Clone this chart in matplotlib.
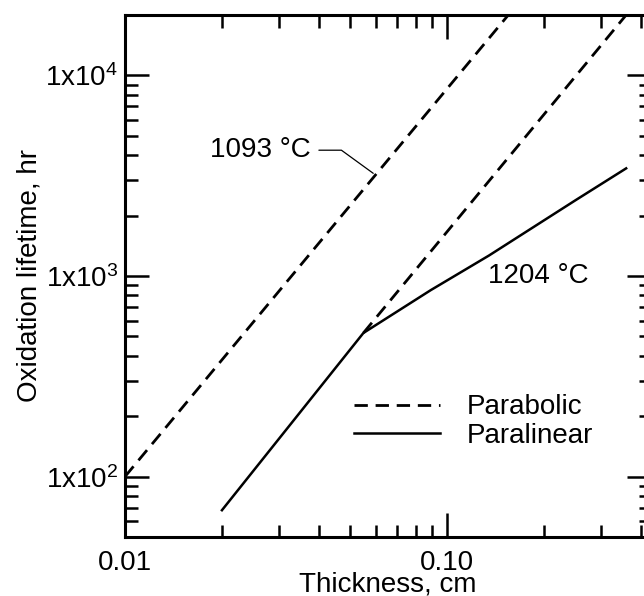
import matplotlib
matplotlib.use("Agg")
import matplotlib.pyplot as plt
from matplotlib.ticker import LogLocator, FixedLocator, NullFormatter, FixedFormatter

plt.rcParams["font.family"] = ["Liberation Sans", "DejaVu Sans"]
plt.rcParams["mathtext.default"] = "regular"

# 1093 C, parabolic (dashed)
x_1093_para = [0.01, 0.155]
y_1093_para = [100, 20000]

# 1204 C, parabolic (dashed), starts where paralinear breaks away
x_1204_para = [0.055, 0.36]
y_1204_para = [520, 20000]

# 1204 C, paralinear (solid)
x_1204_plin = [0.02, 0.055, 0.089, 0.135, 0.25, 0.36]
y_1204_plin = [68, 520, 850, 1265, 2380, 3440]

xticks = [0.01, 0.1]
xticklabels = ["0.01", "0.10"]
yticks = [100, 1000, 10000]
yticklabels = [r"1x10$^{2}$", r"1x10$^{3}$", r"1x10$^{4}$"]

fig = plt.figure(figsize=(6.44, 5.96), dpi=100)
ax = fig.add_axes([125 / 644, 1 - 537 / 596, 526 / 644, 522 / 596])

dash = (4.8, 2.8)
ax.plot(x_1093_para, y_1093_para, color="black", lw=2, dashes=dash)
ax.plot(x_1204_para, y_1204_para, color="black", lw=2, dashes=dash, label="Parabolic")
ax.plot(x_1204_plin, y_1204_plin, color="black", lw=1.8, label="Paralinear")

ax.set_xscale("log")
ax.set_yscale("log")
ax.set_xlim(0.01, 0.43)
ax.set_ylim(50, 20000)

ax.xaxis.set_major_locator(FixedLocator(xticks))
ax.xaxis.set_major_formatter(FixedFormatter(xticklabels))
ax.yaxis.set_major_locator(FixedLocator(yticks))
ax.yaxis.set_major_formatter(FixedFormatter(yticklabels))
ax.xaxis.set_minor_locator(LogLocator(base=10, subs=range(2, 10)))
ax.yaxis.set_minor_locator(LogLocator(base=10, subs=range(2, 10)))
ax.xaxis.set_minor_formatter(NullFormatter())
ax.yaxis.set_minor_formatter(NullFormatter())

ax.tick_params(which="both", direction="in", top=True, right=True, labelsize=20)
ax.tick_params(which="major", length=17, width=1.8)
ax.tick_params(which="minor", length=9, width=1.8)
ax.tick_params(axis="x", pad=9)
ax.tick_params(axis="y", pad=5)
for s in ax.spines.values():
    s.set_linewidth(2.2)

ax.set_xlabel("Thickness, cm", fontsize=20, labelpad=-3)
ax.set_ylabel("Oxidation lifetime, hr", fontsize=20, labelpad=2)

# leader from the label to the 1093 C line
ax.annotate("1093 °C", xy=(0.059, 3250), xycoords="data",
            xytext=(0.257, 0.741), textcoords="axes fraction",
            ha="center", va="center", fontsize=20,
            arrowprops=dict(arrowstyle="-", color="black", lw=0.9,
                            connectionstyle="angle,angleA=0,angleB=-36,rad=0",
                            shrinkA=4, shrinkB=0))
ax.text(0.785, 0.5, "1204 °C", transform=ax.transAxes,
        ha="center", va="center", fontsize=20)

ax.legend(loc="upper left", bbox_to_anchor=(0.435, 0.273), frameon=False,
          fontsize=20, handlelength=3.1, handletextpad=0.95,
          labelspacing=0.08, borderpad=0, borderaxespad=0)

fig.savefig("out.png", dpi=100)
